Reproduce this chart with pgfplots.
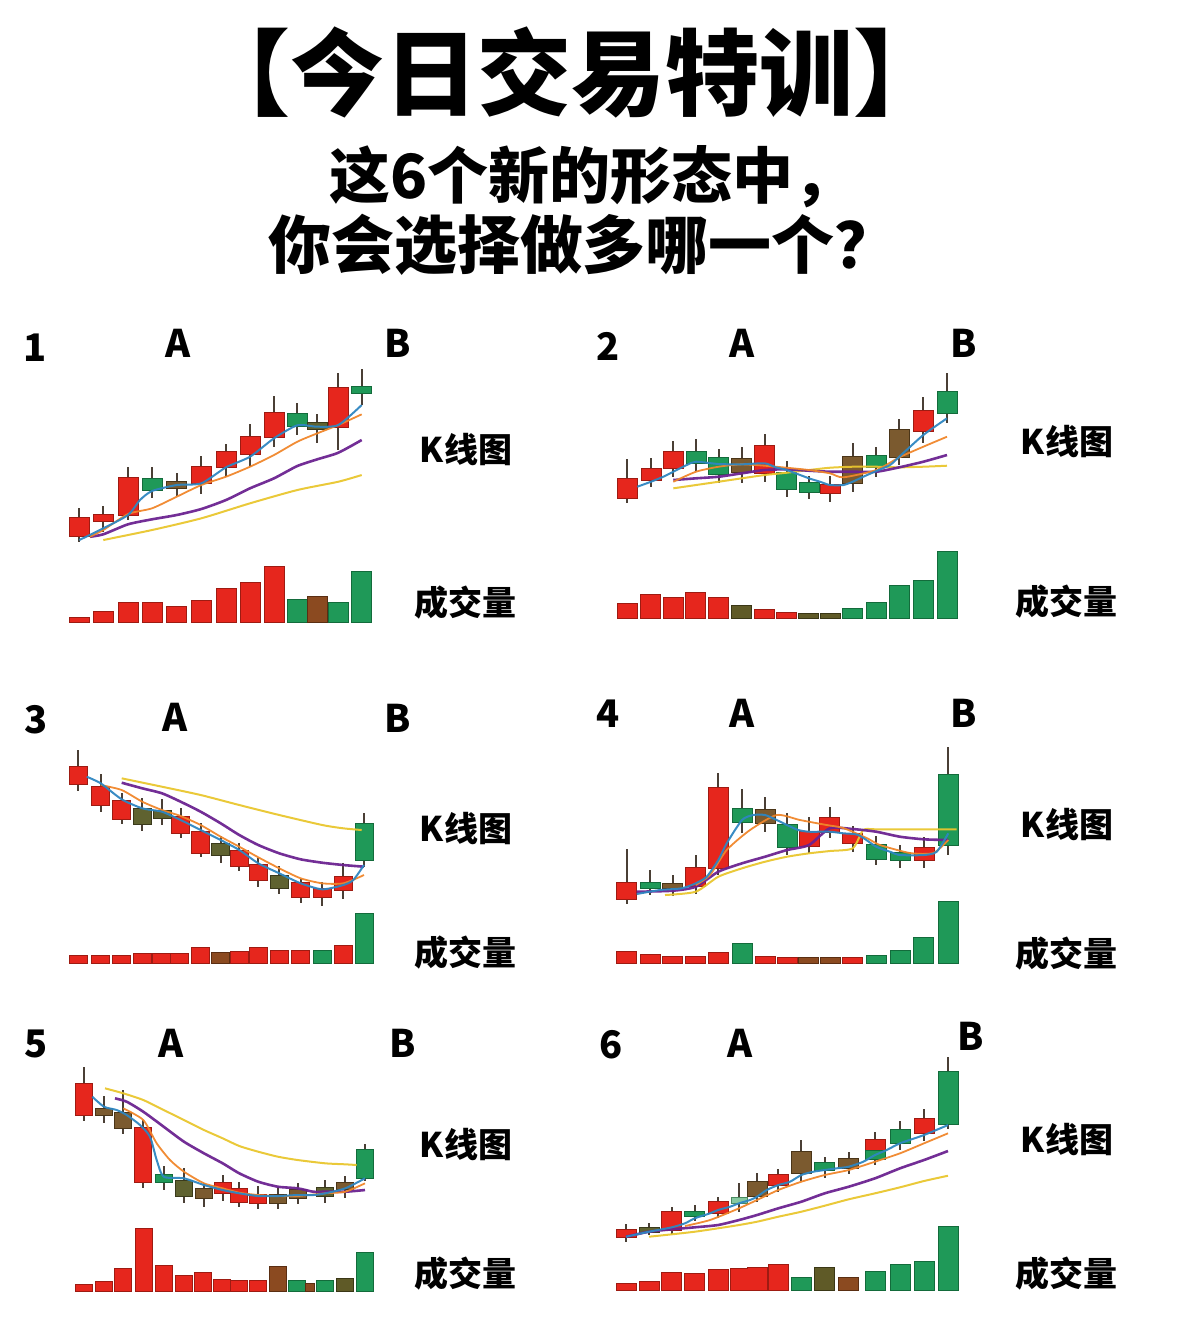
\documentclass[border=0pt]{standalone}
\usepackage{pgfplots}
\pgfplotsset{compat=1.18}
\usepackage{pgfplotstable}
\usepackage{fontspec}
\newfontfamily\cjk{Noto Sans CJK SC}
\definecolor{cr}{HTML}{E6261D}\definecolor{cre}{HTML}{9E1B12}
\definecolor{cg}{HTML}{1F9958}\definecolor{cge}{HTML}{136B3B}
\definecolor{cb}{HTML}{7B5A2F}\definecolor{cbe}{HTML}{4A3518}
\definecolor{co}{HTML}{5F6230}\definecolor{coe}{HTML}{3A3A1B}
\definecolor{clg}{HTML}{86C9A0}\definecolor{clge}{HTML}{4A8A60}
\definecolor{vb}{HTML}{8B4A20}\definecolor{vbe}{HTML}{5A2E12}
\definecolor{vo}{HTML}{5F5A27}\definecolor{voe}{HTML}{3A3716}
\definecolor{wk}{HTML}{4A3F35}
\definecolor{mab}{HTML}{2E86C1}\definecolor{mao}{HTML}{F0862A}
\definecolor{map}{HTML}{6B2390}\definecolor{may}{HTML}{E9C62E}

% ---------- panel 1 ----------
\pgfplotstableread{
x t b hi lo k
79.3 518.3 536 508 542 0
103.3 515 520.7 505.7 531.7 0
128 478.3 515 467 520 0
152 479 490 467 497.7 1
176.7 481.7 488.3 472.7 496 2
201.3 466.7 483.3 455.7 494 0
226 452.3 467.3 444 476.7 0
250 436.7 454 424 467.3 0
274 413.3 437.3 396 446.7 0
297.3 414 425.7 402.7 435 1
317.3 422.7 429 414 442.7 3
338.3 388.3 427.3 372.7 450 0
361.7 386.7 392.7 369.3 405 1
}\pAk
\pgfplotstableread{
x t b k
79.3 617.7 622.3 0
103.3 612 622.3 0
128 602.7 622.3 0
152.3 602.7 622.3 0
176.7 606.7 622.3 0
201.7 600.7 622.3 0
226.3 589.3 622.3 0
250.3 582.7 622.3 0
274.3 566.7 622.3 0
297 600 622.3 1
317.3 596.7 622.3 2
338.3 603.3 622.3 1
361.3 572 622.3 1
}\pAv
% ---------- panel 2 ----------
\pgfplotstableread{
x t b hi lo k
627.3 478.7 498.3 459.3 503.3 0
651 469 480 458.3 487.3 0
673.3 452 468.3 440.7 477.3 0
696 451.7 463.3 439.3 471 1
718.7 458.3 474 449 483.3 1
741.7 459 472.3 447.3 482.7 2
764.7 446.3 473.3 434 481.7 0
786.7 473.3 489.3 461 496.7 1
809 482.7 491.7 476 499 1
830 485 492.7 476 502.3 0
852.7 456.7 482.7 442.7 491.7 2
876.3 456 467.3 447.3 476.7 1
899.3 430 456.7 419 465 2
923.3 410.7 431 397.3 442.7 0
947 391.7 413.3 373.3 423.3 1
}\pBk
\pgfplotstableread{
x t b k
627.3 604 617.7 0
650.3 595 617.7 0
673.3 597.7 617.7 0
695.7 592.7 617.7 0
718.7 598.3 617.7 0
741.3 606 617.7 3
764.3 610.3 617.7 0
786.7 613.3 617.7 0
808.3 613.7 617.7 3
830 613.7 617.7 3
852.7 609.3 617.7 1
876 602.7 617.7 1
899.3 586 617.7 1
923.3 580.7 617.7 1
947.3 551.7 617.7 1
}\pBv
% ---------- panel 3 ----------
\pgfplotstableread{
x t b hi lo k
78.3 766.7 784.3 750 790.7 0
100.7 786.7 805 774.3 811.7 0
121.7 800.7 819.3 793.3 824.3 0
142.3 809 824 798.3 830.7 3
162 811 818.3 799.3 825 3
180.7 817.3 832.7 808.3 838.3 0
200.7 831.7 852.7 822.7 857.3 0
220.7 844 855 836 862.7 3
239.3 851 866 842.7 870.7 0
258.3 865 880 858.3 886.7 0
279.3 876 887.7 865.7 894.3 3
300.7 883.3 897.3 879.3 903.3 0
322.3 889.3 897.3 881.7 905.7 0
343.3 877.3 890 863.3 899 0
364 824 860 812.7 866.7 1
}\pCk
\pgfplotstableread{
x t b k
78.3 956 963.3 0
100 955.7 963.3 0
121 955.7 963.3 0
142 954 963.3 0
161.3 954.3 963.3 0
179.7 954 963.3 0
200 948.3 963.3 0
220.7 952.7 963.3 2
239.3 951.7 963.3 0
258 948.3 963.3 0
279.3 950.7 963.3 0
300.7 951 963.3 0
322 950.7 963.3 1
343.3 945.7 963.3 0
364 914.3 963.3 1
}\pCv
% ---------- panel 4 ----------
\pgfplotstableread{
x t b hi lo k
626.7 882.7 899 849.3 904 0
650 882.7 888.3 870 895 1
672.7 884 888.3 875 896 2
695.7 868.3 885.7 855 894 0
718.3 787.7 867.7 773.3 875 0
742 809.3 821.7 789.3 833.3 1
765 810 822.7 797.3 831.7 2
787 825 847.3 812.7 855 1
809 831.7 846 816.7 852.7 0
829.7 818.3 831.7 806.7 838.3 0
852.7 834 843.3 826 851.7 0
876.3 845 859 836 865 1
900 853.3 860 845 867.7 1
924 848.3 860 836.7 868.3 0
948.3 775 845 747.3 855 1
}\pDk
\pgfplotstableread{
x t b k
626.7 952.3 963.3 0
650.3 955 963.3 0
672.7 956.7 963.3 0
695.3 956.7 963.3 0
718.7 953.3 963.3 0
742 944 963.3 1
765 956.7 963.3 0
787 958.3 963.3 0
808.3 958.3 963.3 2
830 958.3 963.3 2
852.7 957.7 963.3 0
876.3 955.7 963.3 1
900 950.7 963.3 1
923.7 937.7 963.3 1
948 901.7 963.3 1
}\pDv
% ---------- panel 5 ----------
\pgfplotstableread{
x t b hi lo k
83.7 1084 1115 1067.3 1121 0
104 1109.3 1115 1096 1123.3 2
123.3 1112.7 1128.3 1090 1134 2
143.3 1127.7 1181.7 1120 1188.3 0
163.7 1175 1181.7 1166 1190 1
184 1180.7 1196 1168.3 1203.3 3
204 1189.3 1197.7 1182.7 1206.7 2
222.7 1182.7 1192.7 1175 1200.7 0
239.3 1189.3 1201.7 1181.7 1207.3 0
258.3 1195 1202.7 1186 1209.3 0
278 1195 1202.7 1187.3 1208.7 2
297.7 1190 1197.7 1183.3 1204 2
325.3 1188.3 1196 1180 1202.7 3
345.3 1182.7 1189.3 1176 1198.3 2
365 1150 1178.3 1144 1180.7 1
}\pEk
\pgfplotstableread{
x t b k
83.7 1285.3 1290.7 0
103.7 1282 1290.7 0
123.3 1268.7 1290.7 0
144 1229.3 1290.7 0
163.7 1266 1290.7 0
183.7 1275.7 1290.7 0
203.3 1272.7 1290.7 0
222.3 1280 1290.7 0
239.3 1281 1290.7 0
258.3 1280.7 1290.7 0
277.7 1267 1290.7 2
297.3 1281 1290.7 1
310.3 1284 1290.7 4
325.3 1281 1290.7 1
345 1279 1290.7 3
365 1253.3 1290.7 1
}\pEv
% ---------- panel 6 ----------
\pgfplotstableread{
x t b hi lo k
626 1230 1237.3 1224.3 1241.7 0
649 1227.7 1232.3 1223.3 1235.3 3
671.7 1212.3 1230 1206.7 1234 0
694.7 1211.7 1216 1205 1220.7 1
718 1201.7 1212.7 1196.7 1218.3 0
739 1197.7 1203.3 1182.7 1211.7 4
757 1182.3 1195.7 1172.7 1201.7 2
778.3 1175 1185 1169.3 1191.7 0
801.3 1151.7 1173.3 1140 1181 2
824.7 1163.3 1170 1156.7 1178.3 1
848.7 1159.3 1168.3 1152.3 1174 2
875 1151 1159.3 1131.7 1165 1
875 1140 1151.7 1131.7 1165 0
900 1130 1143.3 1121 1150 1
924 1119 1132.7 1109.3 1140.7 0
948 1071.7 1124 1057.3 1129.3 1
}\pFk
\pgfplotstableread{
x t b k
626 1284 1290 0
649 1282 1290 0
671.7 1273 1290 0
694.7 1274 1290 0
718 1270 1290 0
740 1269 1290 0
757 1268 1290 0
778.3 1265 1290 0
801.3 1278 1290 1
824.7 1268 1290 3
848.7 1278 1290 2
875 1272 1290 1
900 1265 1290 1
924 1262 1290 1
948 1227.3 1290 1
}\pFv

\newcommand\Wicks[1]{%
 \addplot[draw=none, mark=none, forget plot, error bars/.cd, y dir=both, y explicit, error mark=none,
   error bar style={line width=1.1pt, draw=wk}]
  table[x=x, y expr={(\thisrow{hi}+\thisrow{lo})/2}, y error expr={(\thisrow{lo}-\thisrow{hi})/2}] {#1};}
% #1 table, #2 class, #3 fill, #4 edge, #5 width (pt)
\newcommand\Rects[5]{%
 \addplot[draw=none, mark=none, forget plot, restrict expr to domain={\thisrow{k}}{#2:#2},
   error bars/.cd, y dir=both, y explicit, error mark=none, error bar style={line width=#5pt+1pt, draw=#4}]
  table[x=x, y expr={(\thisrow{t}+\thisrow{b})/2}, y error expr={(\thisrow{b}-\thisrow{t})/2+1}] {#1};
 \addplot[draw=none, mark=none, forget plot, restrict expr to domain={\thisrow{k}}{#2:#2},
   error bars/.cd, y dir=both, y explicit, error mark=none, error bar style={line width=#5pt, draw=#3}]
  table[x=x, y expr={(\thisrow{t}+\thisrow{b})/2}, y error expr={(\thisrow{b}-\thisrow{t})/2}] {#1};}
% candles: table, width
\newcommand\Candles[2]{%
 \Wicks{#1}
 \Rects{#1}{0}{cr}{cre}{#2}
 \Rects{#1}{1}{cg}{cge}{#2}
 \Rects{#1}{2}{cb}{cbe}{#2}
 \Rects{#1}{3}{co}{coe}{#2}}
\newcommand\Volume[2]{%
 \Rects{#1}{0}{cr}{cre}{#2}
 \Rects{#1}{1}{cg}{cge}{#2}
 \Rects{#1}{2}{vb}{vbe}{#2}
 \Rects{#1}{3}{vo}{voe}{#2}}
\pgfplotsset{
 ma5/.style={draw=mab, mark=none, line width=1pt, opacity=0.95, smooth, tension=0.4, forget plot},
 ma10/.style={draw=mao, mark=none, line width=0.9pt, opacity=0.95, smooth, tension=0.4, forget plot},
 ma20/.style={draw=map, mark=none, line width=1.3pt, opacity=0.95, smooth, tension=0.4, forget plot},
 ma30/.style={draw=may, mark=none, line width=1pt, opacity=0.95, smooth, tension=0.4, forget plot},
}
\newcommand\Lbl[3]{\node[anchor=base, inner sep=0pt, font=\cjk\bfseries\fontsize{19}{22}\selectfont] at (axis cs:#1,#2) {#3};}
\newcommand\Wrd[3]{\node[anchor=base, inner sep=0pt, font=\cjk\bfseries\fontsize{17}{20}\selectfont] at (axis cs:#1,#2) {#3};}

\begin{document}
\begin{tikzpicture}
\useasboundingbox (0,0) rectangle (589pt,-667.5pt);
\begin{axis}[at={(0,0)}, anchor=north west, scale only axis, width=589pt, height=667.5pt,
  xmin=0, xmax=1178, ymin=0, ymax=1335, y dir=reverse, hide axis, clip=false]

% ===== panel 1 =====
\Candles{\pAk}{9.5}
\Volume{\pAv}{9.5}
\addplot[ma30] coordinates {(103.3,540) (152,530) (201.3,518.3) (250,503.3) (297.3,490) (338.3,481.7) (361.7,475)};
\addplot[ma20] coordinates {(90,536.7) (103.3,534.3) (128,524.3) (152,519.3) (176.7,515) (201.3,509) (226,500) (250,488.3) (274,478.3) (297.3,466) (317.3,459.3) (338.3,452.7) (361.7,440)};
\addplot[ma10] coordinates {(90,536.7) (103.3,530) (128,514) (152,508.3) (176.7,496.7) (201.3,485) (226,476.7) (250,466.7) (274,455) (297.3,441.7) (317.3,433.3) (338.3,425) (361.7,414.3)};
\addplot[ma5] coordinates {(79.3,540) (103.3,528.3) (128,515) (140,500) (152,491) (176.7,485) (201.3,483.3) (226,467.3) (250,456.7) (274,438.3) (297.3,425.3) (317.3,426.7) (338.3,425) (361.7,405)};

% ===== panel 2 =====
\Candles{\pBk}{9.5}
\Volume{\pBv}{9.5}
\addplot[ma30] coordinates {(673.3,488.3) (696,485) (718.7,481.7) (741.7,478.3) (764.7,475) (786.7,472.7) (809,470) (830,467.7) (852.7,466.7) (876.3,466.7) (899.3,467.3) (923.3,466.7) (947,465.7)};
\addplot[ma20] coordinates {(673.3,480) (696,478.3) (718.7,476.7) (741.7,473.3) (764.7,470) (786.7,469.3) (809,470.7) (830,471.7) (852.7,471.7) (876.3,471.7) (899.3,467.3) (923.3,461.7) (947,455)};
\addplot[ma10] coordinates {(673.3,481.7) (696,471.7) (718.7,466.7) (741.7,464.3) (764.7,465.7) (786.7,467.7) (809,470) (830,473.3) (843.3,477.3) (876.3,470) (899.3,457.3) (923.3,446.7) (947,436.7)};
\addplot[ma5] coordinates {(637.3,486.7) (651,481.7) (663.3,476.7) (673.3,471.7) (686.7,465) (696,461.7) (718.7,464) (741.7,464.3) (764.7,463.3) (775.7,467.3) (786.7,470) (809,478.3) (820,481.7) (830,485) (843.3,485) (852.7,481.7) (863.3,476.7) (876.3,471) (890,465) (899.3,456.7) (923.3,435) (947,418.3)};

% ===== panel 3 =====
\Candles{\pCk}{8.5}
\Volume{\pCv}{8.5}
\addplot[ma30] coordinates {(121.7,778.3) (162,786.7) (200.7,795) (239.3,805) (279.3,815) (322.3,825) (343.3,828.3) (361.7,830)};
\addplot[ma20] coordinates {(121.7,782.7) (142.3,788.3) (162,793.3) (180.7,801.7) (200.7,811.7) (220.7,823.3) (239.3,835) (258.3,845) (279.3,853.3) (300.7,859.3) (322.3,862.7) (343.3,865) (364,866.7)};
\addplot[ma10] coordinates {(100.7,785) (121.7,790) (142.3,801.7) (162,810) (180.7,816) (200.7,825) (220.7,836.7) (239.3,846.7) (258.3,857.3) (279.3,868.3) (300.7,878.3) (322.3,883.3) (343.3,883.3) (364,875)};
\addplot[ma5] coordinates {(86.7,776.7) (100.7,783.3) (121.7,799.3) (142.3,808.3) (162,811.7) (180.7,820) (200.7,830) (220.7,840) (239.3,850) (258.3,863.3) (279.3,873.3) (300.7,883.3) (322.3,889.3) (343.3,885) (353.3,880) (364,865)};

% ===== panel 4 =====
\Candles{\pDk}{9.5}
\Volume{\pDv}{9.5}
\addplot[ma30] coordinates {(665,895) (695.7,891.7) (718.3,876.7) (742,868.3) (765,861.7) (787,856.7) (809,853.3) (829.7,851) (852.7,848.3) (863.3,830) (876.3,829.3) (924,829.3) (956.7,829.3)};
\addplot[ma20] coordinates {(636.7,891.7) (672.7,890.7) (695.7,886.7) (718.3,871.7) (742,863.3) (765,856.7) (787,850) (809,845) (829.7,828.3) (852.7,829) (876.3,831.7) (900,836.7) (924,839.3) (948.3,840)};
\addplot[ma10] coordinates {(695.7,885) (710,875) (726.7,850) (750,830) (776.7,815) (800,820) (826.7,825) (843.3,828) (866.7,838) (880,845) (910,853) (933.3,853) (948.3,840)};
\addplot[ma5] coordinates {(636.7,894) (660,890) (681.7,888.3) (695.7,883.3) (706.7,876.7) (718.3,860) (726.7,843.3) (742,820) (753.3,815) (765,815) (776.7,820) (787,825) (798.3,830) (809,831.7) (829.7,831.7) (843.3,833.3) (858.3,835) (876.3,846.7) (890,851.7) (900,855) (924,855) (936.7,851.7) (948.3,833.3)};

% ===== panel 5 =====
\Candles{\pEk}{8}
\Volume{\pEv}{8}
\Rects{\pEv}{4}{vb}{vbe}{4}
\addplot[ma30] coordinates {(105,1088.3) (123.3,1093.3) (143.3,1100) (163.7,1110) (184,1120) (204,1130) (222.7,1138.3) (239.3,1146) (258.3,1151.7) (278,1156.7) (297.7,1160) (325.3,1163.3) (345.3,1164.3) (356.7,1165)};
\addplot[ma20] coordinates {(115,1098.3) (126.7,1101.7) (143.3,1111.7) (163.7,1126.7) (184,1141.7) (204,1153.3) (222.7,1163.3) (239.3,1173.3) (258.3,1181.7) (278,1186.7) (297.7,1188.3) (313.3,1191.7) (325.3,1191.7) (345.3,1191.7) (365,1190)};
\addplot[ma10] coordinates {(123.3,1108.3) (143.3,1120) (156.7,1143.3) (170,1160) (184,1171.7) (204,1183.3) (222.7,1188.3) (239.3,1192.7) (258.3,1195) (278,1196) (297.7,1196) (325.3,1193.3) (345.3,1191.7) (365,1183.3)};
\addplot[ma5] coordinates {(92.3,1096.7) (104,1106.7) (116.7,1110) (126.7,1115) (140,1125) (150,1136.7) (156.7,1160) (163.7,1176.7) (184,1178.3) (204,1185) (222.7,1190) (239.3,1193.3) (258.3,1196) (278,1196) (297.7,1195) (313.3,1195) (325.3,1193.3) (345.3,1188.3) (365,1178.3)};

% ===== panel 6 =====
\Candles{\pFk}{9.5}
\Rects{\pFk}{4}{clg}{clge}{7.5}
\Volume{\pFv}{9.5}
\addplot[ma30] coordinates {(649,1236.7) (671.7,1234.3) (694.7,1231.7) (718,1228.3) (739,1225) (757,1221.7) (778.3,1216.7) (801.3,1211.7) (824.7,1205.7) (848.7,1199.3) (875,1193.3) (900,1187.3) (924,1181) (948,1175.7)};
\addplot[ma20] coordinates {(626,1236.7) (649,1231.7) (671.7,1229.3) (694.7,1227.3) (718,1225) (739,1220) (757,1215) (778.3,1208.3) (801.3,1201.7) (824.7,1193.3) (848.7,1186.7) (875,1178.3) (900,1168.3) (924,1160) (948,1151)};
\addplot[ma10] coordinates {(685,1226) (710,1220) (739,1208.3) (757,1200) (778.3,1190) (801.3,1181.7) (824.7,1175) (848.7,1170) (875,1161.7) (900,1153.3) (924,1143.3) (948,1133.3)};
\addplot[ma5] coordinates {(626,1236.7) (649,1231.7) (671.7,1227.3) (685,1223.3) (694.7,1218.3) (710,1213.3) (718,1210) (730,1206.7) (739,1203.3) (750,1200) (757,1196.7) (766.7,1190) (778.3,1185) (790,1181.7) (801.3,1175) (813.3,1171.7) (824.7,1170) (836.7,1168.3) (848.7,1166.7) (863.3,1161.7) (875,1155) (886.7,1150) (900,1143.3) (924,1135) (948,1125)};

% ===== titles =====
\node[anchor=base, inner sep=0pt, font=\cjk\bfseries\fontsize{47}{56}\selectfont] at (axis cs:572,108) {【今日交易特训】};
\node[anchor=base, inner sep=0pt, font=\cjk\bfseries\fontsize{30.5}{36}\selectfont] at (axis cs:592,198) {这6个新的形态中，};
\node[anchor=base, inner sep=0pt, font=\cjk\bfseries\fontsize{31.5}{36}\selectfont] at (axis cs:583,268) {你会选择做多哪一个？};

% ===== labels =====
\Lbl{35.5}{361}{1}\Lbl{178.5}{357}{A}\Lbl{397.5}{357}{B}
\Wrd{466}{462}{K线图}\Wrd{465}{615}{成交量}
\Lbl{608.5}{360}{2}\Lbl{742}{357}{A}\Lbl{964}{357}{B}
\Wrd{1067}{454}{K线图}\Wrd{1066}{614}{成交量}
\Lbl{36.5}{733}{3}\Lbl{175}{731}{A}\Lbl{397.5}{732}{B}
\Wrd{466}{841}{K线图}\Wrd{465}{965}{成交量}
\Lbl{608.5}{727}{4}\Lbl{742.5}{727}{A}\Lbl{964}{727}{B}
\Wrd{1067}{837}{K线图}\Wrd{1066}{966}{成交量}
\Lbl{36.5}{1057}{5}\Lbl{171.5}{1057}{A}\Lbl{402.5}{1057}{B}
\Wrd{466}{1157}{K线图}\Wrd{465}{1286}{成交量}
\Lbl{611}{1058}{6}\Lbl{740.5}{1057}{A}\Lbl{971}{1050}{B}
\Wrd{1067}{1152}{K线图}\Wrd{1066}{1286}{成交量}
\end{axis}
\end{tikzpicture}
\end{document}
